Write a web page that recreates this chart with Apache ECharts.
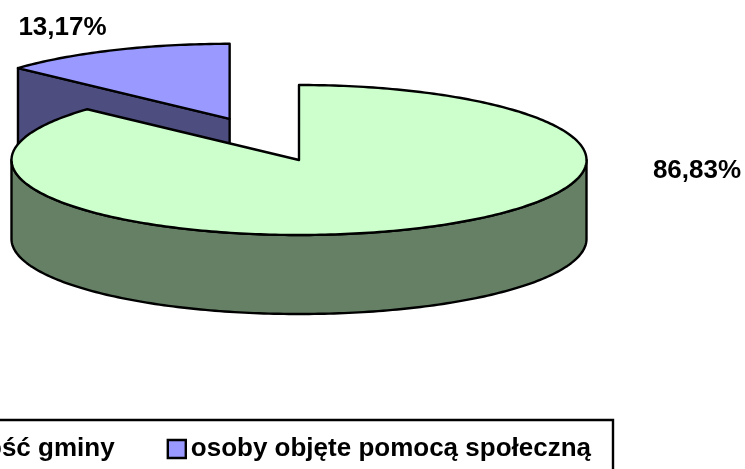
<!DOCTYPE html>
<html><head><meta charset="utf-8">
<style>html,body{margin:0;padding:0;background:#fff}#c{width:745px;height:469px}</style>
<script src="https://cdn.jsdelivr.net/npm/echarts@6/dist/echarts.min.js"></script>
</head><body><div id="c"></div>
<script>
const categories = ['ludność gminy', 'osoby objęte pomocą społeczną'];
const values = [86.83, 13.17];
const valueLabels = ['86,83%', '13,17%'];
const topColors = ['#CCFFCC', '#9999FF'];
const sideColors = ['#668066', '#4D4D80'];

const chart = echarts.init(document.getElementById('c'), null, {renderer: 'canvas'});
const CX = 299, CY = 160, A = 287.5, B = 75, DEPTH = 79, EXPLODE = 0.6;
const total = values.reduce((a, b) => a + b, 0);
const LINE = {stroke: '#000', lineWidth: 2.4, lineJoin: 'round'};

// angles are clockwise from 12 o'clock; slice 0 starts at the top
const starts = [0, values[0] / total * 360];
const pt = (t, cx, cy) => [cx + A * Math.sin(t * Math.PI / 180), cy - B * Math.cos(t * Math.PI / 180)];

function arc(t0, t1, cx, cy) {
  const out = [], n = Math.max(2, Math.ceil(Math.abs(t1 - t0)));
  for (let i = 0; i <= n; i++) out.push(pt(t0 + (t1 - t0) * i / n, cx, cy));
  return out;
}
const poly = (points, fill) => ({type: 'polygon', shape: {points}, style: {fill, ...LINE}});

function render(idx, api) {
  const sweep = api.value(0) / total * 360;
  const t0 = starts[idx], t1 = t0 + sweep;
  const mid = (t0 + t1) / 2;
  const ex = sweep < 180 ? EXPLODE : 0;
  const [cx, cy] = [CX + ex * A * Math.sin(mid * Math.PI / 180), CY - ex * B * Math.cos(mid * Math.PI / 180)];
  const children = [];
  // outer wall on the front half
  const f0 = Math.max(t0, 90), f1 = Math.min(t1, 270);
  if (f1 > f0) {
    const upper = arc(f0, f1, cx, cy);
    const lower = arc(f1, f0, cx, cy + DEPTH);
    children.push(poly(upper.concat(lower), sideColors[idx]));
  }
  // cut face seen by the viewer
  if (ex) {
    const e = pt(t0, cx, cy);
    children.push(poly([[cx, cy], e, [e[0], e[1] + DEPTH], [cx, cy + DEPTH]], sideColors[idx]));
  }
  children.push(poly([[cx, cy]].concat(arc(t0, t1, cx, cy)), topColors[idx]));
  return {type: 'group', children};
}

const labelPos = [[697, 171], [62.5, 28]];

chart.setOption({
  animation: false,
  backgroundColor: '#fff',
  legend: {
    data: categories,
    right: 132, top: 420, width: 1000,
    orient: 'horizontal',
    padding: [16, 22, 40, 22],
    itemGap: 52, itemWidth: 18, itemHeight: 18,
    icon: 'rect',
    borderColor: '#000', borderWidth: 2.4,
    textStyle: {fontFamily: 'Liberation Sans', fontWeight: 'bold', fontSize: 26, color: '#000'},
    itemStyle: {borderColor: '#000', borderWidth: 2.4}
  },
  // drawn small slice first so the large slice overlaps it
  series: [1, 0].map(i => ({
    type: 'custom', name: categories[i], coordinateSystem: 'none', silent: true,
    itemStyle: {color: topColors[i]},
    data: [[values[i]]],
    renderItem: (p, api) => render(i, api)
  })).concat([{
    type: 'custom', coordinateSystem: 'none', silent: true, name: 'labels',
    data: valueLabels.map((s, i) => [s, i]),
    renderItem: (p, api) => {
      const i = p.dataIndex;
      return {type: 'text', x: labelPos[i][0], y: labelPos[i][1],
        style: {text: valueLabels[i], fill: '#000', font: 'bold 26px "Liberation Sans"', align: 'center', verticalAlign: 'middle'}};
    }
  }])
});
</script></body></html>
